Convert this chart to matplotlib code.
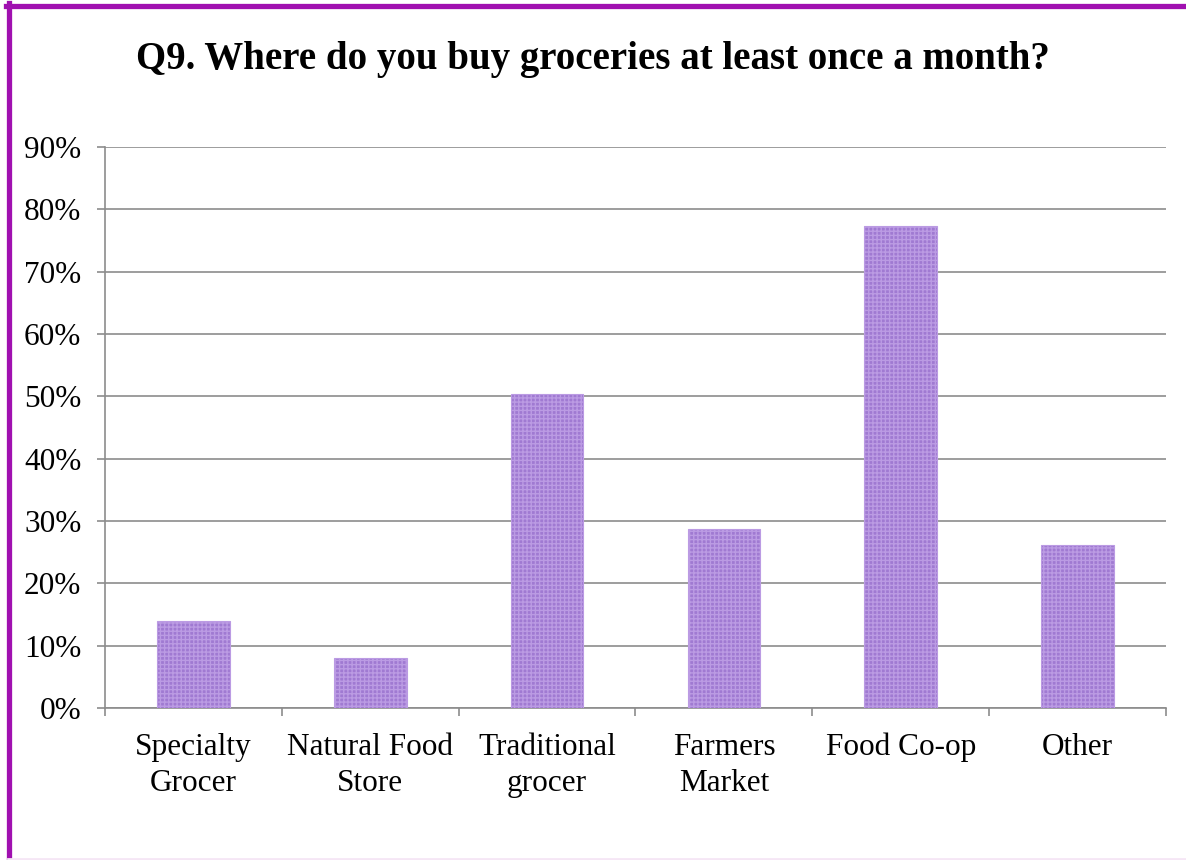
import matplotlib
matplotlib.use("Agg")
import matplotlib.pyplot as plt
from matplotlib.lines import Line2D
import numpy as np

categories = ["Specialty\nGrocer", "Natural Food\nStore", "Traditional\ngrocer", "Farmers\nMarket", "Food Co-op", "Other"]
values = [14.0, 8.0, 50.4, 28.7, 77.4, 26.2]
yticks = [0, 10, 20, 30, 40, 50, 60, 70, 80, 90]
title = "Q9. Where do you buy groceries at least once a month?"

plt.rcParams['font.family'] = ['Liberation Serif', 'DejaVu Serif']
plt.rcParams['hatch.linewidth'] = 1.0
plt.rcParams['hatch.color'] = '#7344ac'

fig = plt.figure(figsize=(11.86, 8.6), dpi=100)
ax = fig.add_axes([105/1186, 1-708/860, (1166-105)/1186, (708-147)/860])

x = np.arange(len(categories))
ax.bar(x, values, width=0.41, color='#a07ad2', edgecolor='#bb9be3', linewidth=0.8,
       hatch='++++', zorder=3)

ax.set_xlim(-0.5, len(categories)-0.5)
ax.set_ylim(0, 90)
ax.set_yticks(yticks)
ax.set_yticklabels([f"{t}%" for t in yticks], fontsize=22.5)
ax.yaxis.grid(True, color='#8c8c8c', linewidth=1.2, zorder=0)
ax.set_axisbelow(True)

ax.set_xticks(np.arange(-0.5, len(categories)), minor=False)
ax.set_xticklabels([])
ax.set_xticks(x, minor=True)
ax.set_xticklabels(categories, minor=True, fontsize=22.5, linespacing=1.3)
ax.tick_params(axis='x', which='major', length=6, color='#8c8c8c', width=1.2, direction='out')
ax.tick_params(axis='x', which='minor', length=0, pad=18)
ax.tick_params(axis='y', length=6, color='#8c8c8c', width=1.2, direction='out', pad=11)

for s in ['top', 'right']:
    ax.spines[s].set_visible(False)
for s in ['left', 'bottom']:
    ax.spines[s].set_color('#8c8c8c')
    ax.spines[s].set_linewidth(1.2)

fig.text(0.5, 1-59/860, title, ha='center', va='center', fontsize=28, fontweight='bold')

# frame border
fig.add_artist(Line2D([8.5/1186, 8.5/1186], [0, 1-3/860], color='#a010b0', linewidth=3.8, transform=fig.transFigure))
fig.add_artist(Line2D([6/1186, 1], [1-5.5/860, 1-5.5/860], color='#a010b0', linewidth=3.8, transform=fig.transFigure))
fig.add_artist(Line2D([8/1186, 1], [1/860, 1/860], color='#f5e6f5', linewidth=2, transform=fig.transFigure))

fig.savefig("out.png", dpi=100)
